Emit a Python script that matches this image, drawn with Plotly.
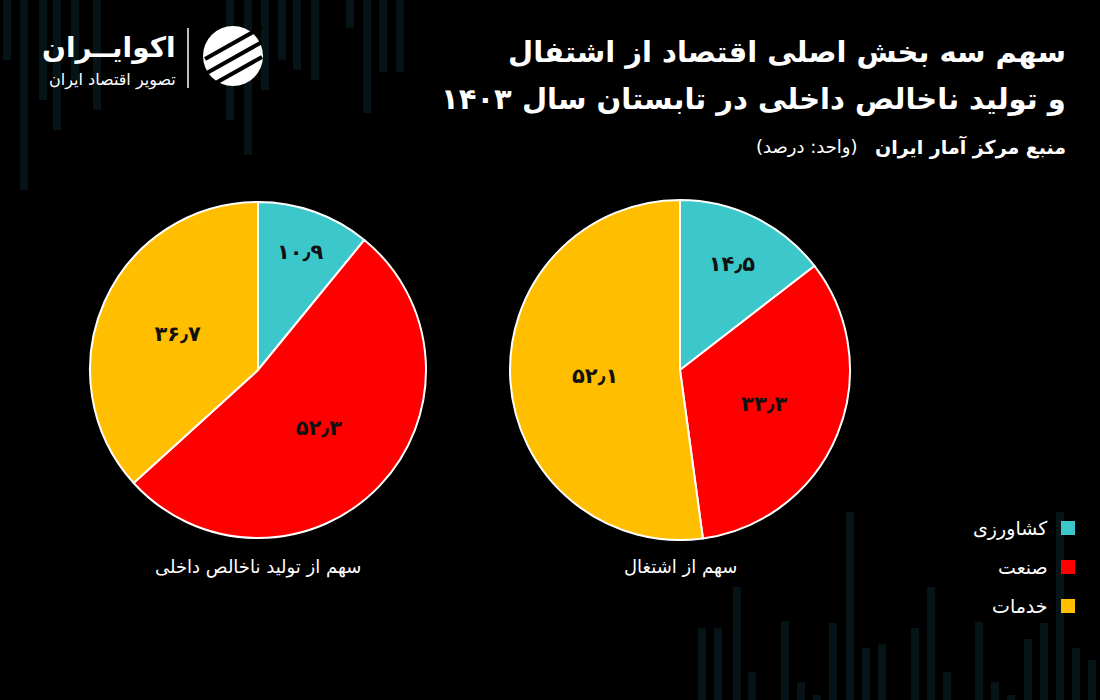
import plotly.graph_objects as go

# ---------------- data ----------------
sectors = ["کشاورزی", "صنعت", "خدمات"]
gdp_share = [10.9, 52.3, 36.7]
emp_share = [14.5, 33.3, 52.1]
gdp_text = ["۱۰٫۹", "۵۲٫۳", "۳۶٫۷"]
emp_text = ["۱۴٫۵", "۳۳٫۳", "۵۲٫۱"]
colors = ["#3CC8CB", "#FF0000", "#FFBF00"]

title_line1 = "سهم سه بخش اصلی اقتصاد از اشتفال"
title_line2 = "و تولید ناخالص داخلی در تابستان سال ۱۴۰۳"
source_text = "منبع مرکز آمار ایران"
unit_text = "(واحد: درصد)"
gdp_caption = "سهم از تولید ناخالص داخلی"
emp_caption = "سهم از اشتغال"
logo_name = "اکوایــران"
logo_tag = "تصویر اقتصاد ایران"

# decorative background bars (pixel positions / lengths)
bg_bottom_x = [702, 718, 737, 752, 785, 801, 817, 833, 850, 866, 882, 915, 931, 947,
               979, 995, 1011, 1028, 1044, 1060, 1076, 1092]
bg_bottom_len = [72, 72, 113, 28, 79, 18, 5, 77, 188, 52, 56, 72, 113, 28,
                 78, 18, 5, 61, 77, 188, 52, 40]
bg_top_x = [7, 24, 43, 57, 75, 97, 230, 248, 265, 282, 297, 315, 350, 367, 383, 400]
bg_top_len = [60, 190, 100, 130, 80, 110, 120, 155, 90, 60, 70, 80, 28, 113, 72, 72]

FONT = "DejaVu Sans"
W, H = 1100, 700
BG_BAR = "#071417"

fig = go.Figure()

# background decoration on a pixel-space axis
fig.add_trace(go.Bar(x=bg_bottom_x, y=[-v for v in bg_bottom_len], base=H, width=8,
                     marker=dict(color=BG_BAR, line=dict(width=0)),
                     hoverinfo="skip", showlegend=False))
fig.add_trace(go.Bar(x=bg_top_x, y=bg_top_len, base=0, width=8,
                     marker=dict(color=BG_BAR, line=dict(width=0)),
                     hoverinfo="skip", showlegend=False))


def px_dom(x0, x1, y0, y1):
    return dict(x=[x0 / W, x1 / W], y=[1 - y1 / H, 1 - y0 / H])


pie_common = dict(
    labels=sectors, sort=False, direction="clockwise", rotation=0,
    marker=dict(colors=colors, line=dict(color="white", width=2)),
    textinfo="text", textposition="inside", insidetextorientation="horizontal",
    textfont=dict(family=FONT, size=21, color="#111111", weight="bold"),
    hoverinfo="label+value", showlegend=False,
)

fig.add_trace(go.Pie(values=gdp_share, text=gdp_text,
                     domain=px_dom(90, 426, 202, 538), **pie_common))
fig.add_trace(go.Pie(values=emp_share, text=emp_text,
                     domain=px_dom(510, 850, 200, 540), **pie_common))

ann = []
ann.append(dict(text="<b>" + title_line1 + "</b>", x=1068, y=52, xref="x", yref="y",
                xanchor="right", yanchor="middle", showarrow=False,
                font=dict(family=FONT, size=29, color="white")))
ann.append(dict(text="<b>" + title_line2 + "</b>", x=1068, y=99, xref="x", yref="y",
                xanchor="right", yanchor="middle", showarrow=False,
                font=dict(family=FONT, size=29, color="white")))
ann.append(dict(text="<b>" + source_text + "</b>", x=1068, y=147, xref="x", yref="y",
                xanchor="right", yanchor="middle", showarrow=False,
                font=dict(family=FONT, size=19, color="white")))
ann.append(dict(text=unit_text, x=860, y=147, xref="x", yref="y",
                xanchor="right", yanchor="middle", showarrow=False,
                font=dict(family=FONT, size=18, color="white")))
ann.append(dict(text=gdp_caption, x=258, y=567, xref="x", yref="y",
                xanchor="center", yanchor="middle", showarrow=False,
                font=dict(family=FONT, size=18, color="white")))
ann.append(dict(text=emp_caption, x=680, y=567, xref="x", yref="y",
                xanchor="center", yanchor="middle", showarrow=False,
                font=dict(family=FONT, size=18, color="white")))
# logo
ann.append(dict(text="<b>" + logo_name + "</b>", x=178, y=47, xref="x", yref="y",
                xanchor="right", yanchor="middle", showarrow=False,
                font=dict(family=FONT, size=28, color="white")))
ann.append(dict(text=logo_tag, x=178, y=80, xref="x", yref="y",
                xanchor="right", yanchor="middle", showarrow=False,
                font=dict(family=FONT, size=16, color="white")))

shapes = []
shapes.append(dict(type="line", x0=188, x1=188, y0=28, y1=88, xref="x", yref="y",
                   line=dict(color="white", width=1.5)))
# logo icon
shapes.append(dict(type="circle", x0=203, x1=263, y0=26, y1=86, xref="x", yref="y",
                   fillcolor="white", line=dict(width=0)))
for dy in (-15, 0, 15):
    shapes.append(dict(type="line", x0=205, x1=262, y0=74 + dy, y1=42 + dy,
                       xref="x", yref="y", line=dict(color="black", width=4)))

# legend (square at right of text, RTL)
leg_y = [528, 567, 606]
for name, col, yy in zip(sectors, colors, leg_y):
    shapes.append(dict(type="rect", x0=1061, x1=1075, y0=yy - 7, y1=yy + 7,
                       xref="x", yref="y", fillcolor=col, line=dict(width=0)))
    ann.append(dict(text=name, x=1050, y=yy, xref="x", yref="y",
                    xanchor="right", yanchor="middle", showarrow=False,
                    font=dict(family=FONT, size=19, color="white")))

fig.update_layout(
    width=W, height=H,
    margin=dict(l=0, r=0, t=0, b=0),
    paper_bgcolor="#000000", plot_bgcolor="#000000",
    xaxis=dict(range=[0, W], visible=False, fixedrange=True, domain=[0, 1]),
    yaxis=dict(range=[H, 0], visible=False, fixedrange=True, domain=[0, 1]),
    barmode="overlay", bargap=0,
    annotations=ann, shapes=shapes,
    showlegend=False,
)

fig.write_html("out.html")
